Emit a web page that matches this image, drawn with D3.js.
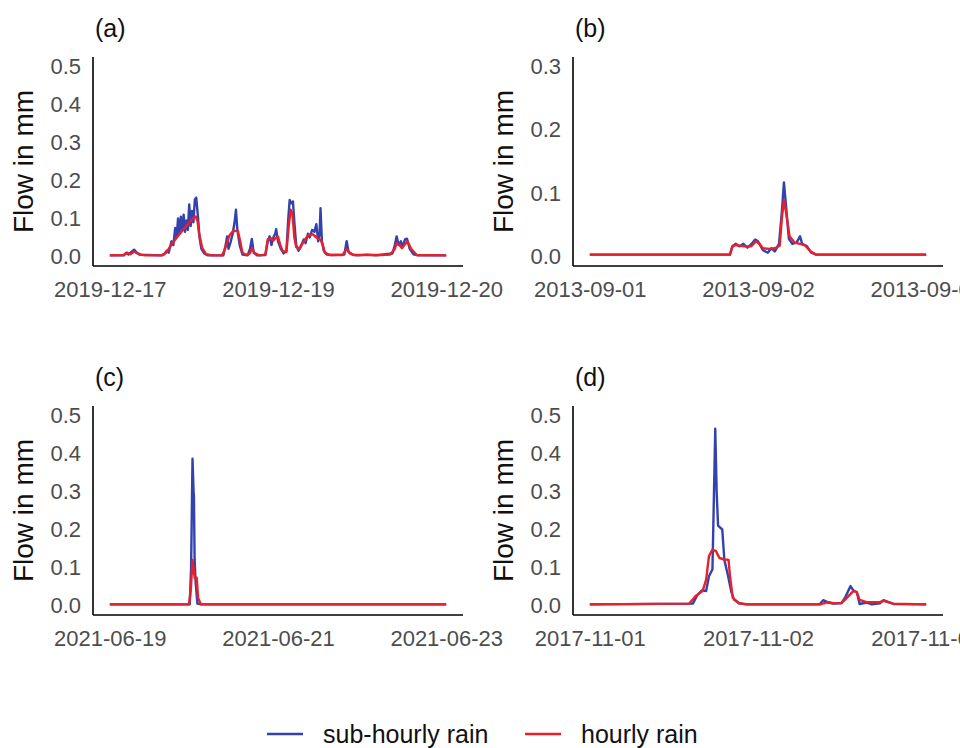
<!doctype html>
<html>
<head>
<meta charset="utf-8">
<title>Flow in mm - sub-hourly vs hourly rain</title>
<script src="https://cdn.jsdelivr.net/npm/d3@7"></script>
<style>
body { margin: 0; background: #fff; font-family: "Liberation Sans", Arial, sans-serif; }
.tick text { fill: #4d4d4d; }
.axis path { stroke: #000; stroke-width: 1.6; }
.axis line { display: none; }
</style>
</head>
<body>
<div id="chart"></div>
<script>
// panel (a): 72 h from 2019-12-17 12:00
var aTicks = [0, 36, 72];
var aLabels = ["2019-12-17", "2019-12-19", "2019-12-20"];
var aSub = [[0,0.003],[3.0,0.003],[3.5,0.01],[4.0,0.005],[4.6,0.012],[5.2,0.018],[5.8,0.01],[6.5,0.005],[11.0,0.003],[11.6,0.006],[12.2,0.015],[12.6,0.01],[13.2,0.04],[13.6,0.03],[14.0,0.075],[14.3,0.05],[14.6,0.1],[14.9,0.06],[15.2,0.105],[15.5,0.07],[15.8,0.11],[16.1,0.065],[16.4,0.095],[16.7,0.07],[17.0,0.137],[17.3,0.08],[17.6,0.12],[17.9,0.09],[18.2,0.15],[18.5,0.155],[18.9,0.1],[19.2,0.05],[19.6,0.02],[20.2,0.008],[21,0.003],[24.3,0.003],[24.8,0.03],[25.1,0.053],[25.4,0.02],[25.9,0.04],[26.3,0.06],[26.7,0.09],[27.0,0.123],[27.3,0.07],[27.8,0.03],[28.4,0.005],[29.5,0.003],[30.0,0.02],[30.4,0.046],[30.8,0.01],[31.5,0.003],[33.3,0.004],[33.8,0.04],[34.2,0.053],[34.6,0.03],[35.0,0.05],[35.4,0.06],[35.6,0.072],[36.0,0.04],[36.6,0.02],[37.2,0.008],[37.8,0.015],[38.2,0.1],[38.5,0.149],[38.8,0.14],[39.2,0.145],[39.5,0.09],[39.9,0.03],[40.4,0.015],[41.0,0.03],[41.5,0.045],[41.9,0.035],[42.4,0.06],[42.8,0.05],[43.3,0.07],[43.8,0.065],[44.2,0.085],[44.6,0.04],[44.9,0.06],[45.1,0.127],[45.4,0.04],[45.8,0.015],[46.5,0.005],[47.5,0.004],[50.2,0.005],[50.7,0.04],[51.1,0.012],[52.0,0.005],[53,0.003],[55,0.005],[57,0.003],[59,0.006],[60.5,0.008],[61.0,0.03],[61.4,0.053],[61.8,0.03],[62.3,0.04],[62.6,0.025],[63.2,0.045],[63.6,0.047],[64.2,0.02],[65.0,0.006],[66,0.003],[72,0.003]];
var aHour = [[0,0.003],[3.0,0.004],[3.7,0.01],[4.4,0.006],[5.2,0.013],[6.2,0.006],[7.5,0.003],[11.2,0.003],[12.0,0.009],[13.4,0.035],[14.8,0.057],[16.3,0.079],[17.7,0.1],[18.4,0.105],[18.8,0.092],[19.1,0.061],[19.8,0.022],[20.6,0.006],[22,0.003],[24.0,0.003],[24.5,0.015],[25.6,0.055],[26.3,0.066],[27.4,0.068],[27.9,0.04],[28.4,0.01],[29.2,0.004],[30.0,0.008],[30.4,0.022],[30.9,0.01],[32.0,0.003],[33.3,0.005],[33.8,0.045],[34.5,0.048],[35.0,0.042],[35.6,0.05],[36.0,0.052],[36.5,0.03],[37.0,0.014],[37.8,0.012],[38.3,0.08],[38.7,0.123],[39.1,0.11],[39.5,0.05],[39.9,0.025],[40.6,0.02],[41.3,0.035],[42.1,0.05],[42.8,0.058],[43.5,0.058],[44.2,0.05],[45.1,0.044],[45.6,0.03],[46.0,0.01],[47.1,0.004],[49.8,0.004],[50.7,0.02],[51.4,0.008],[52.1,0.004],[58,0.004],[60.0,0.005],[61.0,0.02],[61.4,0.035],[62.0,0.03],[62.5,0.022],[63.2,0.032],[63.7,0.04],[64.5,0.02],[65.7,0.004],[72,0.003]];

// panel (b): 48 h from 2013-09-01
var bTicks = [0, 24, 48];
var bLabels = ["2013-09-01", "2013-09-02", "2013-09-03"];
var bSub = [[0,0.003],[20.0,0.003],[20.3,0.015],[20.8,0.02],[21.4,0.016],[21.9,0.02],[22.5,0.014],[23.0,0.019],[23.6,0.027],[24.0,0.024],[24.7,0.01],[25.4,0.006],[25.9,0.013],[26.4,0.008],[27.0,0.02],[27.4,0.07],[27.7,0.117],[28.0,0.08],[28.4,0.028],[28.9,0.02],[29.5,0.022],[30.0,0.032],[30.3,0.02],[31.0,0.016],[31.6,0.006],[32.3,0.003],[48,0.003]];
var bHour = [[0,0.003],[20.0,0.003],[20.4,0.017],[21.0,0.018],[22.0,0.016],[23.0,0.016],[23.7,0.024],[24.2,0.02],[24.7,0.013],[25.6,0.012],[26.4,0.013],[27.1,0.017],[27.4,0.06],[27.7,0.089],[28.0,0.07],[28.5,0.032],[29.2,0.022],[30.0,0.02],[30.7,0.018],[31.5,0.008],[32.3,0.003],[48,0.003]];

// panel (c): 96 h from 2021-06-19
var cTicks = [0, 48, 96];
var cLabels = ["2021-06-19", "2021-06-21", "2021-06-23"];
var cSub = [[0,0.003],[22.8,0.003],[23.2,0.1],[23.6,0.386],[23.9,0.3],[24.0,0.29],[24.2,0.12],[24.5,0.06],[25.0,0.005],[26,0.003],[96,0.003]];
var cHour = [[0,0.003],[22.6,0.003],[23.1,0.04],[23.6,0.12],[24.0,0.09],[24.2,0.073],[24.8,0.073],[25.2,0.02],[26.0,0.003],[96,0.003]];

// panel (d): 48 h from 2017-11-01
var dTicks = [0, 24, 48];
var dLabels = ["2017-11-01", "2017-11-02", "2017-11-03"];
var dSub = [[0,0.003],[14.7,0.005],[15.4,0.029],[16.0,0.04],[16.6,0.038],[17.0,0.077],[17.5,0.095],[17.9,0.465],[18.1,0.3],[18.3,0.21],[18.9,0.2],[19.2,0.12],[19.7,0.08],[20.2,0.035],[20.6,0.015],[21.3,0.006],[22.5,0.003],[32.8,0.003],[33.3,0.014],[34.0,0.008],[34.7,0.005],[35.9,0.006],[36.4,0.02],[37.2,0.051],[37.6,0.04],[38.1,0.035],[38.5,0.004],[39.5,0.008],[40.2,0.003],[41.4,0.006],[41.9,0.014],[43.3,0.004],[48,0.003]];
var dHour = [[0,0.003],[14.2,0.005],[15.1,0.025],[16.1,0.038],[16.6,0.068],[17.0,0.13],[17.5,0.147],[18.0,0.143],[18.5,0.125],[19.2,0.121],[19.8,0.12],[20.0,0.077],[20.4,0.02],[21.3,0.006],[22.3,0.003],[32.8,0.003],[34.1,0.009],[34.7,0.006],[35.9,0.007],[36.4,0.015],[37.6,0.038],[38.1,0.035],[38.5,0.015],[39.5,0.009],[41.4,0.009],[41.9,0.012],[43.3,0.005],[48,0.003]];

var panels = [
  { name: "(a)", span: 72, ymax: 0.5, yTicks: [0, 0.1, 0.2, 0.3, 0.4, 0.5], xTicks: aTicks, xLabels: aLabels, sub: aSub, hour: aHour, col: 0, row: 0 },
  { name: "(b)", span: 48, ymax: 0.3, yTicks: [0, 0.1, 0.2, 0.3], xTicks: bTicks, xLabels: bLabels, sub: bSub, hour: bHour, col: 1, row: 0 },
  { name: "(c)", span: 96, ymax: 0.5, yTicks: [0, 0.1, 0.2, 0.3, 0.4, 0.5], xTicks: cTicks, xLabels: cLabels, sub: cSub, hour: cHour, col: 0, row: 1 },
  { name: "(d)", span: 48, ymax: 0.5, yTicks: [0, 0.1, 0.2, 0.3, 0.4, 0.5], xTicks: dTicks, xLabels: dLabels, sub: dSub, hour: dHour, col: 1, row: 1 }
];

var seriesNames = ["sub-hourly rain", "hourly rain"];
var colors = ["#3342ad", "#e8202c"];

var W = 960, H = 748;
var svg = d3.select("#chart").append("svg")
  .attr("width", W).attr("height", H);

// plot area inside each panel
var pLeft = 93, pRight = 463, pTop = 57, pBottom = 266;

panels.forEach(function(p) {
  var g = svg.append("g")
    .attr("transform", "translate(" + (p.col * 480) + "," + (p.row * 349) + ")");

  var x = d3.scaleLinear()
    .domain([-0.05 * p.span, 1.05 * p.span])
    .range([pLeft, pRight]);
  var y = d3.scaleLinear()
    .domain([-0.05 * p.ymax, 1.05 * p.ymax])
    .range([pBottom, pTop]);

  var line = d3.line()
    .x(function(d) { return x(d[0]); })
    .y(function(d) { return y(d[1]); });

  [p.sub, p.hour].forEach(function(s, i) {
    g.append("path")
      .datum(s)
      .attr("fill", "none")
      .attr("stroke", colors[i])
      .attr("stroke-width", 2.4)
      .attr("stroke-linejoin", "round")
      .attr("d", line);
  });

  g.append("g")
    .attr("class", "axis")
    .attr("transform", "translate(0," + pBottom + ")")
    .call(d3.axisBottom(x).tickValues(p.xTicks).tickSize(0).tickPadding(10)
      .tickFormat(function(d, i) { return p.xLabels[i]; }))
    .call(function(a) { a.select(".domain").attr("d", "M" + pLeft + ",0H" + pRight); })
    .selectAll("text")
    .attr("font-size", 22)
    .attr("font-family", "Liberation Sans, Arial, sans-serif")
    .attr("dy", "0.95em");

  g.append("g")
    .attr("class", "axis")
    .attr("transform", "translate(" + pLeft + ",0)")
    .call(d3.axisLeft(y).tickValues(p.yTicks).tickSize(0).tickPadding(12)
      .tickFormat(d3.format(".1f")))
    .call(function(a) { a.select(".domain").attr("d", "M0," + pTop + "V" + pBottom); })
    .selectAll("text")
    .attr("font-size", 22)
    .attr("font-family", "Liberation Sans, Arial, sans-serif");

  g.append("text")
    .attr("transform", "translate(33," + ((pTop + pBottom) / 2) + ") rotate(-90)")
    .attr("text-anchor", "middle")
    .attr("font-size", 28)
    .attr("fill", "#111")
    .text("Flow in mm");

  g.append("text")
    .attr("x", 95).attr("y", 37)
    .attr("font-size", 25)
    .attr("fill", "#111")
    .text(p.name);
});

// legend
var legend = svg.append("g").attr("transform", "translate(0,734)");
var legX = [267, 525];
seriesNames.forEach(function(n, i) {
  legend.append("line")
    .attr("x1", legX[i]).attr("x2", legX[i] + 36)
    .attr("y1", 0).attr("y2", 0)
    .attr("stroke", colors[i]).attr("stroke-width", 2.4);
  legend.append("text")
    .attr("x", legX[i] + 56).attr("y", 9)
    .attr("font-size", 25)
    .attr("fill", "#111")
    .text(n);
});
</script>
</body>
</html>
